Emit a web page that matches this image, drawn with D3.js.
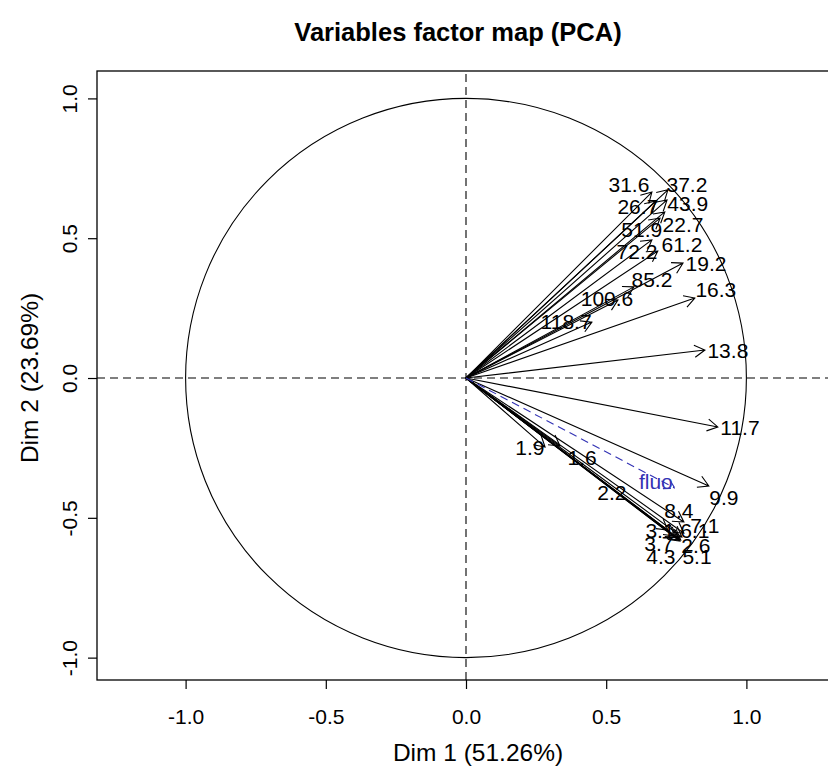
<!DOCTYPE html>
<html>
<head>
<meta charset="utf-8">
<script src="https://cdn.jsdelivr.net/npm/d3@7"></script>
<style>
  body { margin: 0; background: #fff; }
  text { font-family: "Liberation Sans", Arial, Helvetica, sans-serif; }
</style>
</head>
<body>
<svg width="828" height="769"></svg>
<script>
// variables (active), coordinates on Dim 1 / Dim 2
var varNames = ["1.6","1.9","2.2","2.6","3.1","3.7","4.3","5.1","6.1","7.1","8.4","9.9",
                "11.7","13.8","16.3","19.2","22.7","26.7","31.6","37.2","43.9","51.9",
                "61.2","72.2","85.2","100.6","118.7"];
var dim1 = [0.335,0.282,0.720,0.745,0.752,0.759,0.763,0.766,0.770,0.777,0.777,0.866,
            0.898,0.852,0.816,0.774,0.709,0.677,0.663,0.720,0.717,0.692,
            0.684,0.663,0.599,0.542,0.449];
var dim2 = [-0.243,-0.247,-0.544,-0.565,-0.572,-0.580,-0.583,-0.580,-0.569,-0.555,-0.515,-0.386,
            -0.175,0.100,0.286,0.411,0.594,0.633,0.665,0.673,0.637,0.572,
            0.454,0.494,0.326,0.279,0.200];
// where the (auto-placed) labels sit, in the same units
var labDim1 = [0.414,0.228,0.520,0.820,0.692,0.688,0.695,0.824,0.816,0.852,0.759,0.920,
               0.977,0.934,0.891,0.856,0.774,0.613,0.581,0.788,0.791,0.627,
               0.770,0.610,0.663,0.503,0.357];
var labDim2 = [-0.283,-0.250,-0.411,-0.597,-0.544,-0.590,-0.637,-0.637,-0.544,-0.526,-0.472,-0.426,
               -0.175,0.100,0.318,0.408,0.551,0.615,0.694,0.694,0.626,0.533,
               0.476,0.451,0.354,0.283,0.204];

// supplementary variable
var supName = ["fluo"];
var supDim1 = [0.745];
var supDim2 = [-0.394];
var supLabDim1 = [0.677];
var supLabDim2 = [-0.369];

var ticks = [-1, -0.5, 0, 0.5, 1];
var xTitle = "Dim 1 (51.26%)";
var yTitle = "Dim 2 (23.69%)";
var mainTitle = "Variables factor map (PCA)";

var svg = d3.select("svg");
var x = d3.scaleLinear().domain([-1.316, 1.316]).range([97, 835]);
var y = d3.scaleLinear().domain([-1.08, 1.098]).range([680, 71]);

var g = svg.append("g");

// arrow as path: shaft + open head
function arrowPath(x0, y0, x1, y1) {
    var len = 12, a = Math.PI / 6;
    var th = Math.atan2(y1 - y0, x1 - x0);
    var p = d3.path();
    p.moveTo(x0, y0); p.lineTo(x1, y1);
    p.moveTo(x1 - len * Math.cos(th - a), y1 - len * Math.sin(th - a));
    p.lineTo(x1, y1);
    p.lineTo(x1 - len * Math.cos(th + a), y1 - len * Math.sin(th + a));
    return p.toString();
}

// unit circle
g.append("ellipse")
    .attr("cx", x(0)).attr("cy", y(0))
    .attr("rx", x(1) - x(0)).attr("ry", y(0) - y(1))
    .attr("fill", "none").attr("stroke", "#000").attr("stroke-width", 1.1);

// dashed axes lines
g.append("line")
    .attr("x1", x.range()[0]).attr("x2", x.range()[1])
    .attr("y1", y(0)).attr("y2", y(0))
    .attr("stroke", "#000").attr("stroke-dasharray", "8,5").attr("stroke-width", 1.1);
g.append("line")
    .attr("x1", x(0)).attr("x2", x(0))
    .attr("y1", y.range()[0]).attr("y2", y.range()[1])
    .attr("stroke", "#000").attr("stroke-dasharray", "8,5").attr("stroke-width", 1.1);

// active variables
var vars = varNames.map((n, i) => ({name: n, x: dim1[i], y: dim2[i], lx: labDim1[i], ly: labDim2[i]}));

g.selectAll("path.var")
    .data(vars)
    .enter().append("path")
    .attr("class", "var")
    .attr("d", d => arrowPath(x(0), y(0), x(d.x), y(d.y)))
    .attr("fill", "none").attr("stroke", "#000").attr("stroke-width", 1.1);

g.selectAll("text.var")
    .data(vars)
    .enter().append("text")
    .attr("class", "var")
    .attr("x", d => x(d.lx)).attr("y", d => y(d.ly))
    .attr("dy", "0.36em")
    .attr("text-anchor", "middle")
    .attr("font-size", 21)
    .attr("fill", "#000")
    .text(d => d.name);

// supplementary
var sup = supName.map((n, i) => ({name: n, x: supDim1[i], y: supDim2[i], lx: supLabDim1[i], ly: supLabDim2[i]}));
g.selectAll("path.sup")
    .data(sup)
    .enter().append("path")
    .attr("class", "sup")
    .attr("d", d => arrowPath(x(0), y(0), x(d.x), y(d.y)))
    .attr("fill", "none").attr("stroke", "#3232b4").attr("stroke-width", 1.1)
    .attr("stroke-dasharray", "8,5");
g.selectAll("text.sup")
    .data(sup)
    .enter().append("text")
    .attr("class", "sup")
    .attr("x", d => x(d.lx)).attr("y", d => y(d.ly))
    .attr("dy", "0.36em")
    .attr("text-anchor", "middle")
    .attr("font-size", 21)
    .attr("fill", "#3232b4")
    .text(d => d.name);

// box
svg.append("rect")
    .attr("x", x.range()[0]).attr("y", y.range()[1])
    .attr("width", x.range()[1] - x.range()[0])
    .attr("height", y.range()[0] - y.range()[1])
    .attr("fill", "none").attr("stroke", "#000").attr("stroke-width", 1.3);

// axes
var fmt = d => d.toFixed(1);
var ax = svg.append("g")
    .attr("transform", "translate(0," + y.range()[0] + ")")
    .call(d3.axisBottom(x).tickValues(ticks).tickFormat(fmt).tickSize(9).tickPadding(20));
ax.select(".domain").remove();
ax.selectAll("line").attr("stroke-width", 1.2);
ax.selectAll("text").attr("font-size", 21).attr("font-family", "Liberation Sans, Arial, sans-serif").attr("fill", "#000");

var ay = svg.append("g")
    .attr("transform", "translate(" + x.range()[0] + ",0)")
    .call(d3.axisLeft(y).tickValues(ticks).tickFormat(fmt).tickSize(9));
ay.select(".domain").remove();
ay.selectAll("line").attr("stroke-width", 1.2);
ay.selectAll("text")
    .attr("font-size", 21).attr("font-family", "Liberation Sans, Arial, sans-serif").attr("fill", "#000")
    .attr("x", null).attr("dy", null)
    .attr("text-anchor", "middle")
    .attr("transform", "translate(-18,0) rotate(-90)")
    .attr("y", 0).attr("dy", "-0.1em");

// titles
svg.append("text")
    .attr("x", (x.range()[0] + x.range()[1]) / 2 - 8).attr("y", 41)
    .attr("text-anchor", "middle")
    .attr("font-weight", "bold").attr("font-size", 25.5)
    .attr("fill", "#000")
    .text(mainTitle);

svg.append("text")
    .attr("x", (x.range()[0] + x.range()[1]) / 2 + 12).attr("y", 761)
    .attr("text-anchor", "middle")
    .attr("font-size", 24.5)
    .attr("fill", "#000")
    .text(xTitle);

svg.append("text")
    .attr("transform", "translate(38," + y(0) + ") rotate(-90)")
    .attr("text-anchor", "middle")
    .attr("font-size", 24.5)
    .attr("fill", "#000")
    .text(yTitle);
</script>
</body>
</html>
